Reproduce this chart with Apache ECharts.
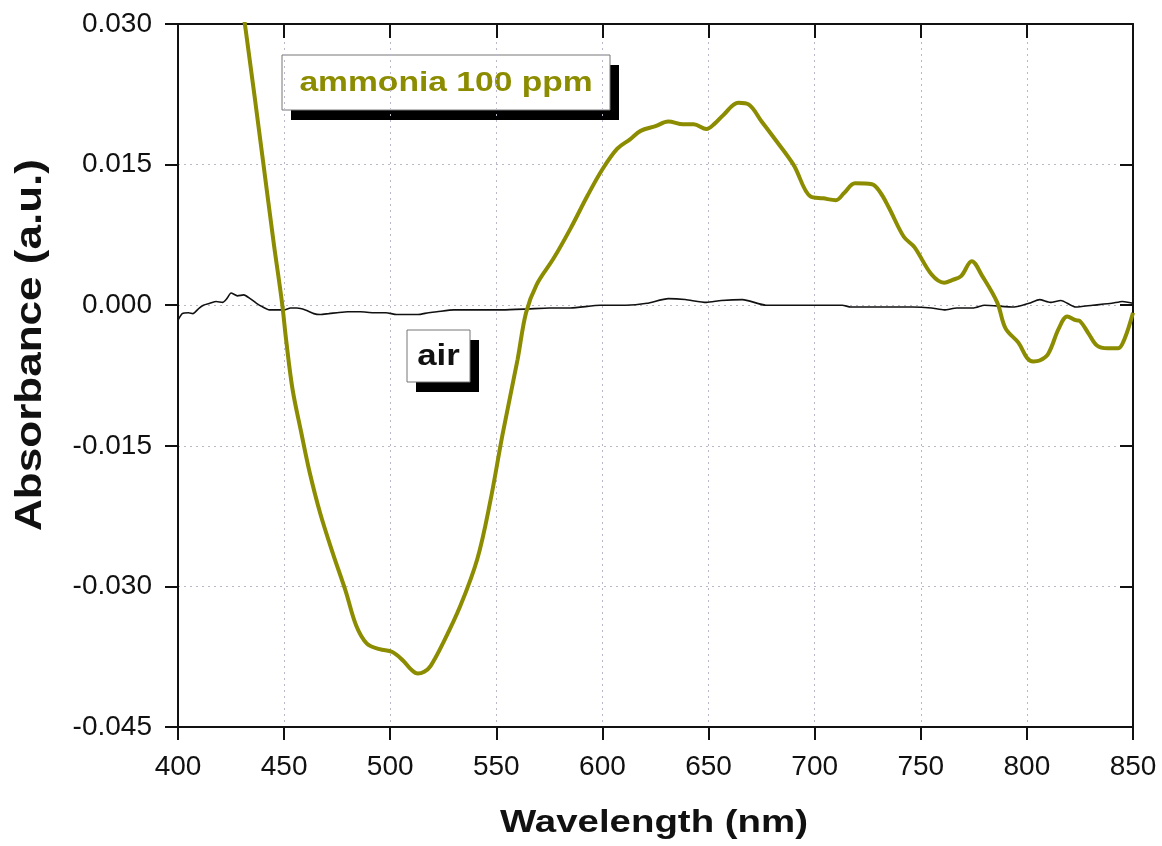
<!DOCTYPE html>
<html>
<head>
<meta charset="utf-8">
<script src="https://cdn.jsdelivr.net/npm/echarts@6/dist/echarts.min.js"></script>
<style>
  html, body { margin: 0; padding: 0; background: #fff; }
  #chart { width: 1162px; height: 846px; }
</style>
</head>
<body>
<div id="chart"></div>
<script>
// Wavelength axis ticks (nm) and absorbance axis ticks (a.u.)
const xTicks = [400, 450, 500, 550, 600, 650, 700, 750, 800, 850];
const yTicks = [-0.045, -0.030, -0.015, 0.000, 0.015, 0.030];

// Difference spectrum under 100 ppm ammonia
const ammoniaWl = [428, 432, 440, 445, 449, 451, 454, 458, 462, 467, 473, 479, 484, 489, 495, 501, 506, 510, 513, 516,
  519, 525, 533, 541, 547, 553, 560, 564, 569, 577, 585, 593, 600, 607, 613, 618, 625, 631, 638, 643,
  649, 653, 657, 664, 669, 675, 680, 690, 698, 704, 710, 714, 719, 727, 731, 735, 742, 747, 755, 761,
  765, 769, 774, 779, 786, 790, 796, 800, 803, 806, 810, 815, 819, 823, 825, 829, 833, 838, 843, 846, 850];
const ammoniaAbs = [0.0352, 0.0292, 0.0155, 0.0068, 0.0003, -0.0038, -0.0090, -0.0135, -0.0178, -0.0222, -0.0265, -0.0305, -0.0342, -0.0361, -0.0367, -0.0370, -0.0379, -0.0389, -0.0393, -0.0391,
  -0.0385, -0.0360, -0.0321, -0.0271, -0.0211, -0.0137, -0.0058, -0.0008, 0.0022, 0.0050, 0.0082, 0.0117, 0.0145, 0.0167, 0.0177, 0.0186, 0.0191, 0.0196, 0.0193, 0.0193,
  0.0188, 0.0194, 0.0203, 0.0216, 0.0214, 0.0196, 0.0181, 0.0150, 0.0116, 0.0114, 0.0112, 0.0120, 0.0130, 0.0129, 0.0120, 0.0104, 0.0073, 0.0062, 0.0033, 0.0024,
  0.0027, 0.0031, 0.0047, 0.0031, 0.0003, -0.0025, -0.0040, -0.0056, -0.0060, -0.0059, -0.0052, -0.0025, -0.0012, -0.0016, -0.0017, -0.0030, -0.0043, -0.0046, -0.0046, -0.0036, -0.0008];

// Baseline spectrum in air
const airWl = [400, 402, 405, 407, 410, 412, 415, 418, 421, 423, 425, 428, 431, 434, 437, 440, 443, 447, 450, 453,
  456, 460, 464, 467, 471, 475, 480, 486, 492, 498, 503, 509, 513, 518, 522, 530, 540, 553, 565, 575,
  585, 599, 611, 621, 631, 639, 649, 656, 666, 677, 698, 713, 717, 730, 746, 755, 761, 767, 775, 780,
  794, 801, 806, 811, 816, 823, 831, 840, 845, 850];
const airAbs = [-0.0016, -0.0009, -0.0008, -0.0009, -0.0003, 0.0000, 0.0002, 0.0004, 0.0003, 0.0007, 0.0013, 0.0010, 0.0011, 0.0007, 0.0002, -0.0002, -0.0005, -0.0005, -0.0005, -0.0003,
  -0.0003, -0.0005, -0.0009, -0.0010, -0.0009, -0.0008, -0.0007, -0.0007, -0.0008, -0.0008, -0.0010, -0.0010, -0.0010, -0.0008, -0.0007, -0.0005, -0.0005, -0.0005, -0.0004, -0.0003,
  -0.0003, 0.0000, 0.0000, 0.0002, 0.0007, 0.0006, 0.0003, 0.0005, 0.0006, 0.0000, 0.0000, 0.0000, -0.0002, -0.0002, -0.0002, -0.0003, -0.0005, -0.0003, -0.0003, 0.0000,
  -0.0002, 0.0002, 0.0006, 0.0003, 0.0005, -0.0002, 0.0000, 0.0002, 0.0004, 0.0002];

const OLIVE = '#8c8c00';
const FONT = '"Liberation Sans", Arial, sans-serif';

const pair = (xs, ys) => xs.map((x, i) => [x, ys[i]]);

const xMin = xTicks[0], xMax = xTicks[xTicks.length - 1], xStep = xTicks[1] - xTicks[0];
const yMin = yTicks[0], yMax = yTicks[yTicks.length - 1], yStep = 0.015;

const axisLine = { show: true, onZero: false, lineStyle: { color: '#111', width: 2 } };
const gridDots = { show: true, lineStyle: { color: '#b8b8c8', type: [2, 4], width: 1 } };

// Boxed annotation: drop shadow, white frame, text
function labelBox(x, y, w, h, text, color, size) {
  return {
    type: 'group',
    children: [
      { type: 'rect', shape: { x: x + 9, y: y + 10, width: w, height: h }, style: { fill: '#000' } },
      { type: 'rect', shape: { x: x, y: y, width: w, height: h }, style: { fill: '#fff', stroke: '#777', lineWidth: 1 } },
      {
        type: 'text', x: x + w / 2, y: y + h / 2 + 1, scaleX: 1.2,
        style: { text: text, fill: color, font: 'bold ' + size + 'px ' + FONT, textAlign: 'center', textVerticalAlign: 'middle' }
      }
    ]
  };
}

const chart = echarts.init(document.getElementById('chart'), null, { renderer: 'canvas' });
chart.setOption({
  backgroundColor: '#fff',
  animation: false,
  grid: { left: 178, right: 29, top: 24, bottom: 119, containLabel: false },
  xAxis: [
    {
      type: 'value', position: 'bottom', min: xMin, max: xMax, interval: xStep,
      axisLine: axisLine,
      axisTick: { show: true, inside: false, length: 13, lineStyle: { color: '#111', width: 2 } },
      axisLabel: { color: '#111', fontFamily: FONT, fontSize: 28, margin: 26 },
      splitLine: gridDots
    },
    {
      type: 'value', position: 'top', min: xMin, max: xMax, interval: xStep,
      axisLine: axisLine,
      axisTick: { show: true, inside: true, length: 14, lineStyle: { color: '#111', width: 2 } },
      axisLabel: { show: false }, splitLine: { show: false }
    }
  ],
  yAxis: [
    {
      type: 'value', position: 'left', min: yMin, max: yMax, interval: yStep,
      axisLine: axisLine,
      axisTick: { show: true, inside: false, length: 13, lineStyle: { color: '#111', width: 2 } },
      axisLabel: { color: '#111', fontFamily: FONT, fontSize: 28, margin: 26, formatter: v => v.toFixed(3) },
      splitLine: gridDots
    },
    {
      type: 'value', position: 'right', min: yMin, max: yMax, interval: yStep,
      axisLine: axisLine,
      axisTick: { show: true, inside: true, length: 13, lineStyle: { color: '#111', width: 2 } },
      axisLabel: { show: false }, splitLine: { show: false }
    }
  ],
  series: [
    {
      name: 'air', type: 'line', xAxisIndex: 0, yAxisIndex: 0, data: pair(airWl, airAbs),
      showSymbol: false, smooth: 0.2, clip: true,
      lineStyle: { color: '#111', width: 1.6 }, z: 3
    },
    {
      name: 'ammonia 100 ppm', type: 'line', xAxisIndex: 0, yAxisIndex: 0, data: pair(ammoniaWl, ammoniaAbs),
      showSymbol: false, smooth: 0.35, clip: true,
      lineStyle: { color: OLIVE, width: 4 }, z: 4
    }
  ],
  graphic: [
    // axis titles
    {
      type: 'text', x: 654, y: 823, scaleX: 1.2,
      style: { text: 'Wavelength (nm)', fill: '#111', font: 'bold 32px ' + FONT, textAlign: 'center', textVerticalAlign: 'middle' }
    },
    {
      type: 'text', x: 31, y: 345, rotation: Math.PI / 2, scaleX: 1.19,
      style: { text: 'Absorbance (a.u.)', fill: '#111', font: 'bold 37px ' + FONT, textAlign: 'center', textVerticalAlign: 'middle' }
    },
    labelBox(282, 55, 328, 55, 'ammonia 100 ppm', OLIVE, 28),
    labelBox(407, 330, 63, 52, 'air', '#111', 29)
  ]
});
</script>
</body>
</html>
